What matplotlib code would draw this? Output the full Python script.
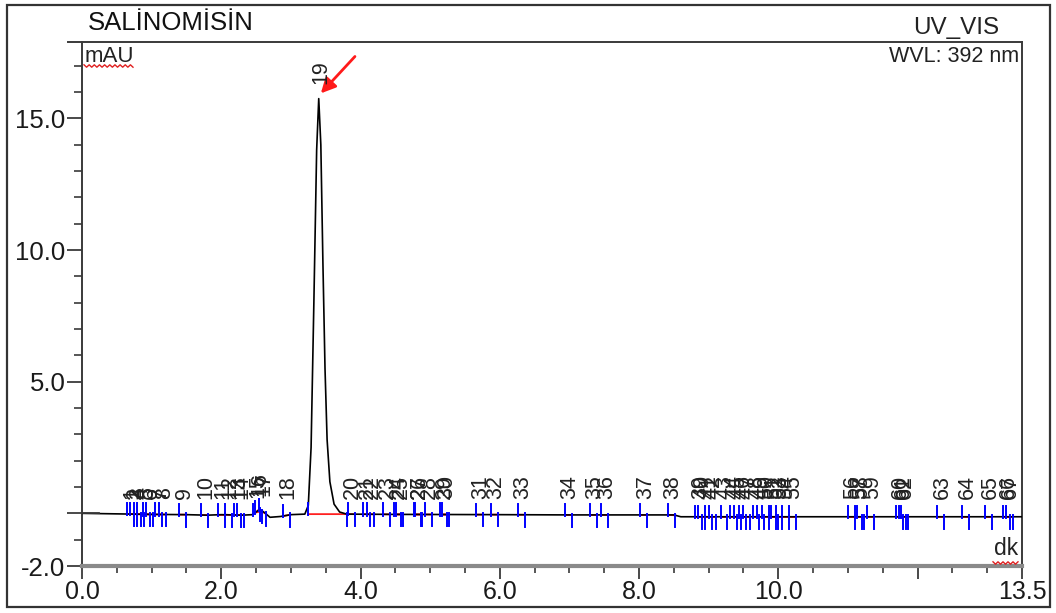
import numpy as np
import matplotlib
matplotlib.use("Agg")
import matplotlib.pyplot as plt
from matplotlib.patches import Rectangle
from matplotlib.lines import Line2D

plt.rcParams['font.family'] = ['Liberation Sans', 'DejaVu Sans']

# ---------------- data ----------------
title = "SALİNOMİSİN"
channel = "UV_VIS"
wavelength = "WVL: 392 nm"
y_unit = "mAU"
x_unit = "dk"

# baseline of the chromatogram (time [min], signal [mAU])
base_t = [0.0, 0.5, 1.0, 1.5, 1.8, 2.0, 2.3, 2.45, 2.55, 2.62, 2.70, 2.85, 3.0, 3.20,
          3.80, 4.5, 6.0, 7.0, 8.0, 8.5, 8.6, 10.0, 12.0, 13.5]
base_v = [0.0, -0.02, -0.04, -0.05, -0.07, -0.05, -0.07, -0.05, 0.15, 0.03, -0.15, -0.12,
          -0.05, -0.03, -0.03, -0.04, -0.05, -0.06, -0.06, -0.06, -0.13, -0.13, -0.13, -0.13]

# main peak (salinomycin, peak 19)
peak_t = [3.25, 3.29, 3.33, 3.37, 3.40, 3.43, 3.46, 3.49, 3.52, 3.56, 3.62, 3.70]
peak_v = [0.3, 2.5, 8.0, 13.8, 15.75, 14.0, 9.5, 5.5, 2.8, 1.2, 0.35, 0.05]

peak_numbers = list(range(1, 68))
peak_rt = [0.69, 0.73, 0.79, 0.83, 0.91, 0.96, 1.09, 1.15, 1.44, 1.75,
           2.00, 2.10, 2.22, 2.27, 2.49, 2.53, 2.58, 2.93, 3.40, 3.86,
           4.07, 4.14, 4.36, 4.52, 4.55, 4.81, 4.82, 4.96, 5.18, 5.21,
           5.70, 5.91, 6.30, 6.98, 7.34, 7.50, 8.06, 8.46, 8.85, 8.89,
           8.99, 9.04, 9.21, 9.34, 9.41, 9.48, 9.53, 9.67, 9.73, 9.80,
           9.91, 9.94, 10.00, 10.09, 10.19, 11.04, 11.14, 11.17, 11.32, 11.73,
           11.77, 11.80, 12.32, 12.68, 13.01, 13.27, 13.31]
main_peak_start = 3.25
main_peak_end = 3.81

x_ticks = [0, 2, 4, 6, 8, 10, 12, 13.5]
x_ticklabels = ["0.0", "2.0", "4.0", "6.0", "8.0", "10.0", "", "13.5"]
y_ticks = [-2, 0, 5, 10, 15]
y_ticklabels = ["-2.0", "", "5.0", "10.0", "15.0"]

# ---------------- figure ----------------
W, H = 1056, 613
fig = plt.figure(figsize=(W / 100, H / 100), dpi=100)
fig.patch.set_facecolor("white")

def fx(px):
    return px / W

def fy(py):
    return 1 - py / H

ax = fig.add_axes([fx(82), fy(566), fx(1022) - fx(82), fy(42) - fy(566)])
ax.set_xlim(0, 13.5)
ax.set_ylim(-2, 17.9)

spine_col = "#3a3a3a"
for s in ["left", "top", "right"]:
    ax.spines[s].set_color(spine_col)
    ax.spines[s].set_linewidth(1.4)
ax.spines["bottom"].set_color("#8a8a8a")
ax.spines["bottom"].set_linewidth(3.0)

# trace
t_all = np.array(base_t + peak_t)
v_all = np.array(base_v + peak_v)
order = np.argsort(t_all)
t_all, v_all = t_all[order], v_all[order]
ax.plot(t_all, v_all, color="black", lw=1.2, zorder=3)

def base_at(t):
    return np.interp(t, base_t, base_v)

starts = [rt - 0.04 for rt in peak_rt]
ends = [rt + 0.06 for rt in peak_rt]
starts[18] = main_peak_start
ends[18] = main_peak_end

# red integration baselines
for s, e in zip(starts, ends):
    ax.plot([s, e], [base_at(s), base_at(e)], color="#ff2020", lw=1.3, zorder=2)

# blue delimiters
for s, e in zip(starts, ends):
    bs, be = base_at(s), base_at(e)
    ax.plot([s, s], [bs - 0.05, bs + 0.42], color="#0000ff", lw=1.4, zorder=4)
    ax.plot([e, e], [be + 0.05, be - 0.45], color="#0000ff", lw=1.4, zorder=4)

# peak labels
for n, rt in zip(peak_numbers, peak_rt):
    yv = np.interp(rt, t_all, v_all)
    ypos = max(yv, 0.0) + 0.55
    ax.text(rt + 0.03, ypos, str(n), rotation=90, ha="center", va="bottom",
            fontsize=15.5, color="#222222", zorder=5)

# ticks
ax.set_xticks(x_ticks)
ax.set_xticklabels(x_ticklabels)
ax.set_xticks(np.arange(0, 13.5, 0.5), minor=True)
ax.set_yticks(y_ticks)
ax.set_yticklabels(y_ticklabels)
ax.set_yticks(np.arange(-2, 18, 1.0), minor=True)
ax.tick_params(axis="x", which="major", direction="out", length=9, width=1.3,
               colors=spine_col, labelsize=18, labelcolor="#1a1a1a", pad=1)
ax.tick_params(axis="x", which="minor", direction="out", length=5, width=1.2, colors=spine_col)
ax.tick_params(axis="y", which="major", direction="out", length=11, width=1.3,
               colors=spine_col, labelsize=18.5, labelcolor="#1a1a1a", pad=1)
ax.tick_params(axis="y", which="minor", direction="out", length=6, width=1.2, colors=spine_col)

# zero line tick crossing the axis
ax.plot([0, 0.25], [0, 0], color=spine_col, lw=1.3, clip_on=False, zorder=3)

# in-axes texts
ax.text(0.003, 0.993, y_unit, transform=ax.transAxes, ha="left", va="top",
        fontsize=16, color="#222222")
ax.text(0.997, 0.993, wavelength, transform=ax.transAxes, ha="right", va="top",
        fontsize=15.5, color="#222222")
ax.text(0.996, 0.012, x_unit, transform=ax.transAxes, ha="right", va="bottom",
        fontsize=16.5, color="#222222")

# red arrow to main peak
ax.annotate("", xy=(3.43, 15.95), xytext=(3.92, 17.35),
            arrowprops=dict(arrowstyle="-|>", color="#ff1a1a", lw=2.0,
                            mutation_scale=22, shrinkA=0, shrinkB=0))

# figure texts
fig.text(fx(88), fy(23), title, ha="left", va="center", fontsize=18.5, color="#111111")
fig.text(fx(956), fy(28), channel, ha="center", va="center", fontsize=17.5, color="#222222")

# top line extension and outer frame
fig.add_artist(Line2D([fx(68), fx(82)], [fy(42), fy(42)], color=spine_col, lw=1.4))
fig.add_artist(Rectangle((fx(7), fy(607)), fx(1050) - fx(7), fy(5) - fy(607),
                         fill=False, ec="#333333", lw=1.6, transform=fig.transFigure))

# spell-check squiggles under units
def squiggle(x0, x1, y):
    xs = np.linspace(x0, x1, int((x1 - x0) / 2.5) + 1)
    ys = y + np.where(np.arange(len(xs)) % 2 == 0, -1.2, 1.2)
    fig.add_artist(Line2D(fx(xs), fy(ys), color="#e02020", lw=1.0))

squiggle(84, 133, 66)
squiggle(993, 1018, 563)

fig.savefig("out.png", dpi=100)
